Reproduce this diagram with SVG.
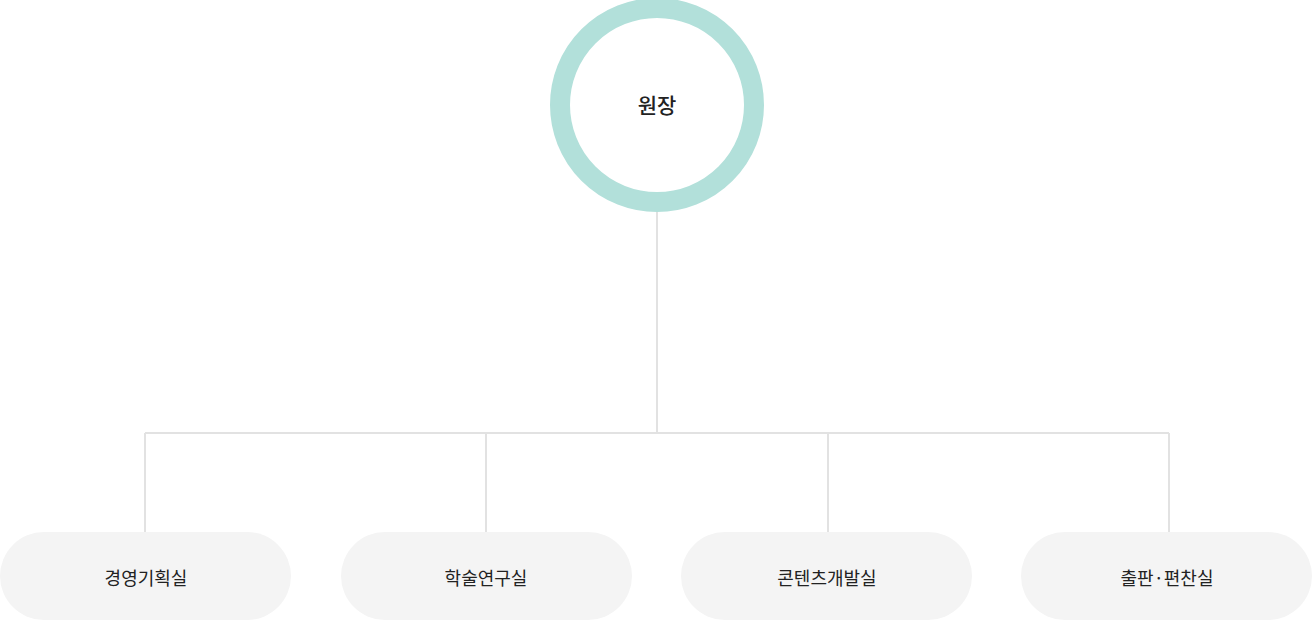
<svg xmlns="http://www.w3.org/2000/svg" width="1314" height="620" viewBox="0 0 1314 620">
<style>
.pill{fill:#f4f4f4}
.t{font-family:"Noto Sans CJK KR","Noto Sans",sans-serif;font-size:18px;fill:#222;text-anchor:middle;dominant-baseline:central}
.ln{stroke:#e2e2e2;stroke-width:2;fill:none}
</style>
<rect width="1314" height="620" fill="#fff"/>
<g id="connectors">
<path class="ln" d="M657 208V433M145 433H1169M145 433V532M486 433V532M828 433V532M1169 433V532"/>
</g>
<g id="root">
<circle cx="657" cy="105" r="97" fill="#fff" stroke="#b2e0da" stroke-width="20"/>
<text class="t" x="657" y="104" style="font-size:21px;font-weight:500">원장</text>
</g>
<g id="n1"><rect class="pill" x="0" y="532" width="291" height="88" rx="44"/><text class="t" x="146" y="577">경영기획실</text></g>
<g id="n2"><rect class="pill" x="341" y="532" width="291" height="88" rx="44"/><text class="t" x="486" y="577">학술연구실</text></g>
<g id="n3"><rect class="pill" x="681" y="532" width="291" height="88" rx="44"/><text class="t" x="827" y="577">콘텐츠개발실</text></g>
<g id="n4"><rect class="pill" x="1021" y="532" width="291" height="88" rx="44"/><text class="t" x="1167" y="577">출판·편찬실</text></g>
</svg>
